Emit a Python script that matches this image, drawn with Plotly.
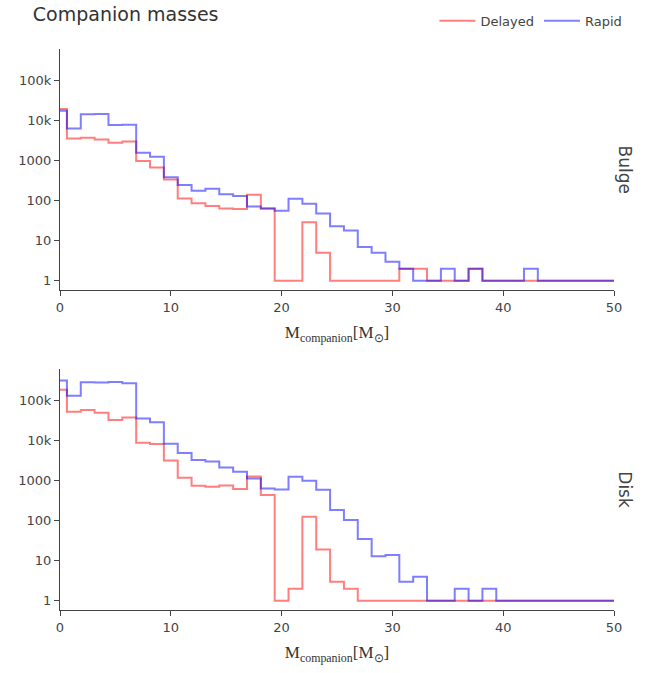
import plotly.graph_objects as go
from plotly.subplots import make_subplots

# Companion-mass bin centres (M_sun)
mass_bins = [0, 1.25, 2.5, 3.75, 5, 6.25, 7.5, 8.75, 10, 11.25,
             12.5, 13.75, 15, 16.25, 17.5, 18.75, 20, 21.25, 22.5, 23.75,
             25, 26.25, 27.5, 28.75, 30, 31.25, 32.5, 33.75, 35, 36.25,
             37.5, 38.75, 40, 41.25, 42.5, 43.75, 45, 46.25, 47.5, 48.75, 50]

# Counts per bin, bulge population
bulge_delayed = [19500, 3600, 3750, 3400, 2800, 3000, 980, 680, 340, 114,
                 86, 74, 64, 62, 141, 64, 1, 1, 29, 5,
                 1, 1, 1, 1, 1, 2, 2, 1, 1, 1,
                 2, 1, 1, 1, 1, 1, 1, 1, 1, 1, 1]
bulge_rapid = [17800, 6400, 14400, 14700, 7800, 7900, 1580, 1260, 385, 247,
               178, 200, 146, 131, 72, 64, 56, 112, 84, 48,
               23, 18, 7, 5, 3, 2, 1, 1, 2, 1,
               2, 1, 1, 1, 2, 1, 1, 1, 1, 1, 1]

# Counts per bin, disk population
disk_delayed = [186000, 53000, 58000, 50000, 33000, 38000, 8900, 8200, 3200, 1190,
                750, 710, 760, 620, 1280, 440, 1, 2, 126, 19,
                3, 2, 1, 1, 1, 1, 1, 1, 1, 1,
                1, 1, 1, 1, 1, 1, 1, 1, 1, 1, 1]
disk_rapid = [316000, 133000, 288000, 282000, 293000, 272000, 35500, 28800, 8400, 4900,
              3300, 3000, 2150, 1680, 1140, 640, 600, 1260, 1000, 590,
              185, 104, 35, 13, 14, 3, 4, 1, 1, 2,
              1, 2, 1, 1, 1, 1, 1, 1, 1, 1, 1]

regions = ["Bulge", "Disk"]
series = {
    "Delayed": ("red", [bulge_delayed, disk_delayed]),
    "Rapid": ("blue", [bulge_rapid, disk_rapid]),
}

FONT = "DejaVu Sans"
AXIS_TITLE = "M<sub>companion</sub>[M<sub>⊙</sub>]"

fig = make_subplots(rows=2, cols=1, vertical_spacing=0.1408)

for name, (color, per_region) in series.items():
    for row, counts in enumerate(per_region, start=1):
        fig.add_trace(
            go.Scatter(
                x=mass_bins, y=counts, name=name, mode="lines",
                line=dict(color=color, width=2, shape="hvh"),
                opacity=0.5, legendgroup=name, showlegend=(row == 1),
            ),
            row=row, col=1,
        )

for row in (1, 2):
    fig.update_xaxes(
        range=[0, 50], showline=True, linecolor="#444", linewidth=1,
        ticks="outside", ticklen=5, tickcolor="#444", showgrid=False,
        zeroline=False, dtick=10,
        title=dict(text=AXIS_TITLE, standoff=12,
                   font=dict(family="Liberation Serif", size=17, color="#333")),
        row=row, col=1,
    )
    fig.update_yaxes(
        type="log", range=[-0.23, 5.79], showline=True, linecolor="#444",
        linewidth=1, ticks="outside", ticklen=5, tickcolor="#444",
        showgrid=False, zeroline=False, row=row, col=1,
    )

# Row labels on the right-hand side
for region, yc in zip(regions, [0.785, 0.215]):
    fig.add_annotation(
        text=region, textangle=90, showarrow=False,
        xref="paper", yref="paper", x=1.02, y=yc,
        xanchor="center", yanchor="middle",
        font=dict(family=FONT, size=17, color="#444"),
    )

fig.update_layout(
    width=657, height=673,
    margin=dict(l=60, r=43, t=49, b=63, autoexpand=False),
    paper_bgcolor="white", plot_bgcolor="white",
    font=dict(family=FONT, size=13, color="#444"),
    title=dict(text="Companion masses", x=0.05, xanchor="left",
               y=0.979, yanchor="middle",
               font=dict(family=FONT, size=19, color="#333")),
    legend=dict(orientation="h", xref="container", x=0.955, xanchor="right",
                yref="container", y=0.969, yanchor="middle",
                itemwidth=36, font=dict(size=13)),
)

fig.write_html("out.html")
